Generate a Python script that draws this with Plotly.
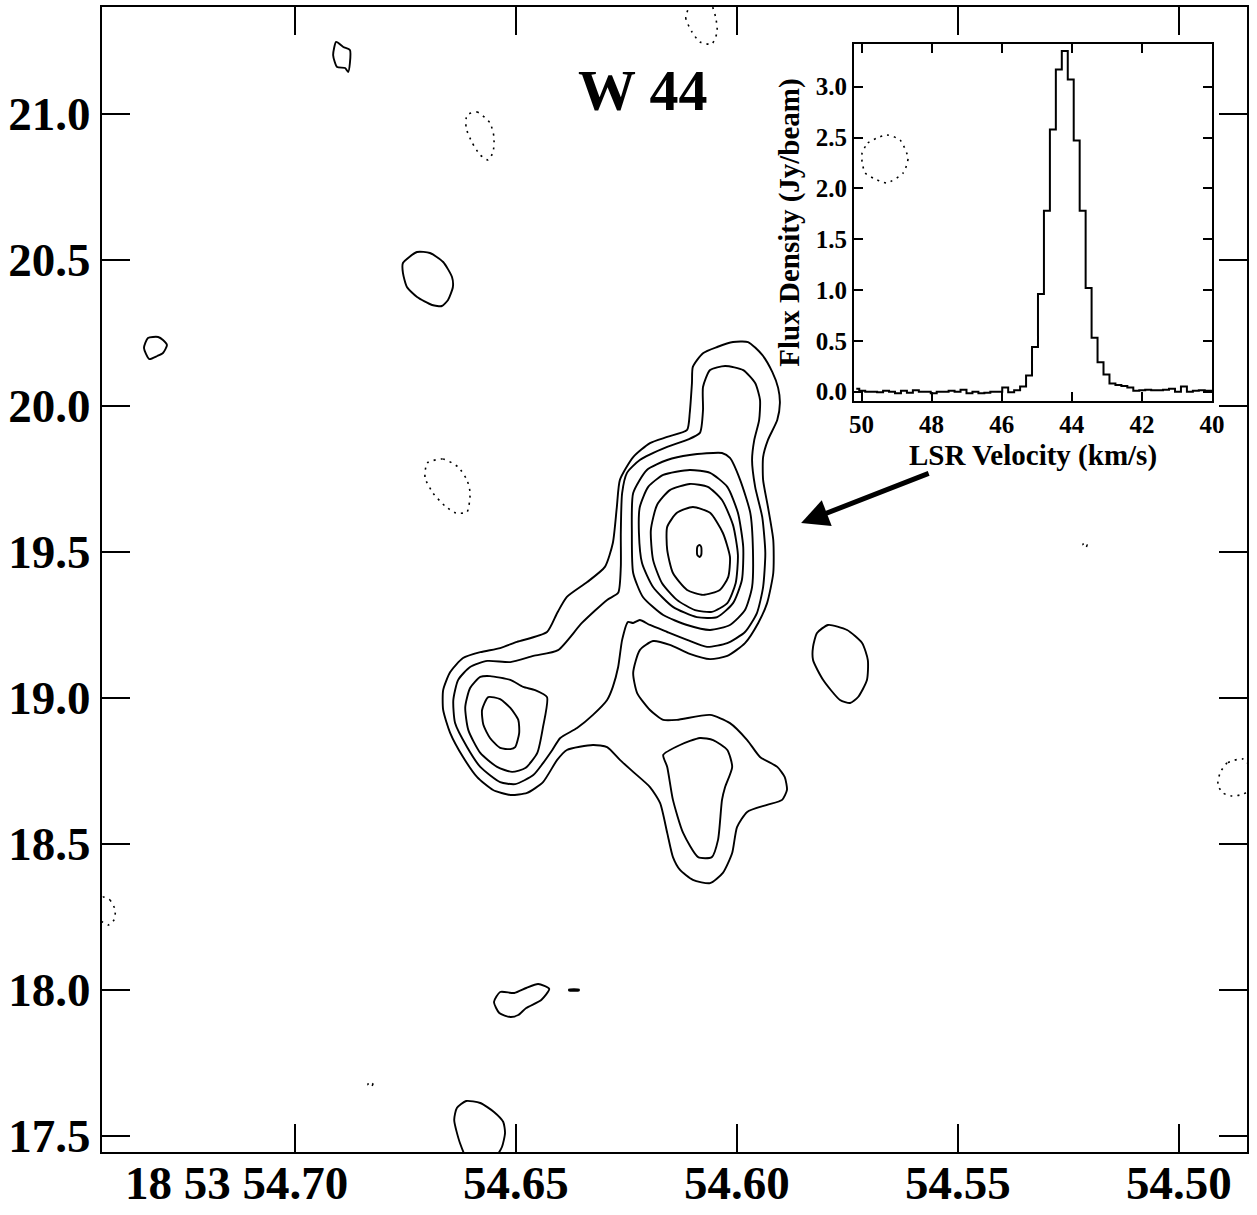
import plotly.graph_objects as go

# ---------------- main map: contour outlines (RA seconds, Dec arcsec) ----------------
# level 1 (outermost, encloses all emission)
c1_ra = [54.6009, 54.5975, 54.5943, 54.5920, 54.5907, 54.5903, 54.5909, 54.5930, 54.5941, 54.5941,
         54.5930, 54.5918, 54.5918, 54.5932, 54.5952, 54.5982, 54.6022, 54.6061, 54.6107, 54.6152,
         54.6190, 54.6220, 54.6235, 54.6226, 54.6197, 54.6167, 54.6136, 54.6061, 54.6016, 54.5977,
         54.5948, 54.5909, 54.5892, 54.5887, 54.5898, 54.5932, 54.5977, 54.6000, 54.6011, 54.6032,
         54.6061, 54.6100, 54.6129, 54.6145, 54.6158, 54.6174, 54.6197, 54.6235, 54.6265, 54.6294,
         54.6326, 54.6385, 54.6407, 54.6439, 54.6475, 54.6513, 54.6552, 54.6588, 54.6620, 54.6649,
         54.6665, 54.6665, 54.6649, 54.6620, 54.6581, 54.6536, 54.6498, 54.6430, 54.6407, 54.6385,
         54.6339, 54.6299, 54.6281, 54.6272, 54.6265, 54.6235, 54.6197, 54.6158, 54.6113, 54.6107,
         54.6102, 54.6100, 54.6077, 54.6045]
c1_dec = [20.219, 20.219, 20.175, 20.116, 20.062, 20.010, 19.952, 19.884, 19.825, 19.747,
          19.654, 19.541, 19.428, 19.325, 19.257, 19.188, 19.144, 19.133, 19.151, 19.182,
          19.195, 19.164, 19.086, 19.017, 18.959, 18.925, 18.925, 18.942, 18.914, 18.856,
          18.798, 18.764, 18.729, 18.685, 18.651, 18.634, 18.610, 18.558, 18.469, 18.401,
          18.366, 18.377, 18.411, 18.455, 18.538, 18.640, 18.695, 18.747, 18.788, 18.832,
          18.839, 18.822, 18.788, 18.712, 18.675, 18.668, 18.685, 18.729, 18.798, 18.880,
          18.959, 19.027, 19.089, 19.137, 19.157, 19.171, 19.192, 19.226, 19.291, 19.346,
          19.397, 19.449, 19.531, 19.654, 19.747, 19.825, 19.873, 19.894, 19.918, 19.976,
          20.079, 20.134, 20.181, 20.202]

# level 2 (main peak + northern extension + western peak)
c2_ra = [54.6061, 54.6027, 54.5986, 54.5959, 54.5948, 54.5950, 54.5961, 54.5966, 54.5959, 54.5943,
         54.5936, 54.5941, 54.5955, 54.5982, 54.6022, 54.6068, 54.6113, 54.6158, 54.6197, 54.6220,
         54.6235, 54.6247, 54.6260, 54.6269, 54.6281, 54.6294, 54.6326, 54.6362, 54.6400, 54.6418,
         54.6439, 54.6461, 54.6502, 54.6536, 54.6581, 54.6611, 54.6638, 54.6642, 54.6631, 54.6604,
         54.6565, 54.6513, 54.6461, 54.6405, 54.6351, 54.6294, 54.6269, 54.6263, 54.6263, 54.6260,
         54.6249, 54.6220, 54.6158, 54.6113, 54.6084, 54.6077, 54.6077]
c2_dec = [20.123, 20.137, 20.123, 20.079, 20.021, 19.952, 19.884, 19.815, 19.723, 19.620,
          19.497, 19.380, 19.291, 19.226, 19.188, 19.175, 19.199, 19.226, 19.250, 19.267,
          19.257, 19.260, 19.199, 19.106, 19.038, 18.993, 18.942, 18.897, 18.863, 18.822,
          18.777, 18.736, 18.705, 18.712, 18.764, 18.832, 18.914, 18.993, 19.062, 19.106,
          19.127, 19.123, 19.144, 19.164, 19.257, 19.336, 19.360, 19.449, 19.565, 19.702,
          19.771, 19.815, 19.860, 19.884, 19.908, 19.986, 20.065]

# level 2, south-eastern lobe
r2_ra = [54.6167, 54.6158, 54.6145, 54.6122, 54.6088, 54.6057, 54.6043, 54.6034, 54.6027, 54.6011,
         54.6022, 54.6054, 54.6084, 54.6129]
r2_dec = [18.805, 18.764, 18.651, 18.538, 18.455, 18.455, 18.514, 18.651, 18.695, 18.764,
          18.822, 18.856, 18.863, 18.839]

# western peak, levels 3 and 4
l3_ra = [54.6581, 54.6559, 54.6513, 54.6484, 54.6457, 54.6430, 54.6439, 54.6452, 54.6479, 54.6509,
         54.6543, 54.6581, 54.6608, 54.6615, 54.6604]
l3_dec = [19.072, 19.075, 19.062, 19.038, 19.027, 19.003, 18.901, 18.812, 18.760, 18.747,
          18.764, 18.812, 18.890, 18.969, 19.034]
l4_ra = [54.6563, 54.6536, 54.6513, 54.6495, 54.6493, 54.6502, 54.6513, 54.6536, 54.6559, 54.6574,
         54.6577]
l4_dec = [19.003, 18.996, 18.966, 18.925, 18.880, 18.832, 18.825, 18.829, 18.863, 18.908,
          18.959]

# main peak, levels 3 .. 7
e4_ra = [54.6235, 54.6204, 54.6158, 54.6107, 54.6034, 54.6016, 54.5993, 54.5970, 54.5964, 54.5966,
         54.5982, 54.6016, 54.6061, 54.6113, 54.6167, 54.6213, 54.6235, 54.6238]
e4_dec = [19.702, 19.781, 19.815, 19.832, 19.839, 19.822, 19.747, 19.634, 19.507, 19.380,
          19.301, 19.250, 19.233, 19.250, 19.284, 19.346, 19.428, 19.565]
e3_ra = [54.6220, 54.6201, 54.6167, 54.6107, 54.6061, 54.6022, 54.5998, 54.5986, 54.5989, 54.6009,
         54.6045, 54.6091, 54.6145, 54.6190, 54.6215, 54.6222]
e3_dec = [19.654, 19.723, 19.764, 19.781, 19.771, 19.723, 19.634, 19.517, 19.404, 19.325,
          19.277, 19.277, 19.312, 19.380, 19.462, 19.565]
e2_ra = [54.6195, 54.6181, 54.6152, 54.6107, 54.6066, 54.6034, 54.6009, 54.5998, 54.6003, 54.6022,
         54.6057, 54.6095, 54.6136, 54.6170, 54.6190]
e2_dec = [19.575, 19.661, 19.712, 19.733, 19.723, 19.678, 19.592, 19.490, 19.394, 19.325,
          19.295, 19.301, 19.336, 19.394, 19.473]
e1_ra = [54.6158, 54.6136, 54.6100, 54.6061, 54.6032, 54.6016, 54.6020, 54.6039, 54.6077, 54.6113,
         54.6145, 54.6158]
e1_dec = [19.586, 19.634, 19.654, 19.634, 19.565, 19.483, 19.414, 19.370, 19.353, 19.370,
          19.428, 19.507]
e0_ra = [54.6085, 54.6081, 54.6081, 54.6085, 54.6090, 54.6090]
e0_dec = [19.524, 19.517, 19.490, 19.483, 19.490, 19.517]

# isolated positive contours
a_ra = [54.6907, 54.6891, 54.6876, 54.6876, 54.6880, 54.6887, 54.6905, 54.6914]
a_dec = [21.2466, 21.2294, 21.2192, 21.1746, 21.1438, 21.1575, 21.1609, 21.2020]
b_ra = [54.7333, 54.7310, 54.7299, 54.7290, 54.7299, 54.7312, 54.7330, 54.7342]
b_dec = [20.2329, 20.2363, 20.2260, 20.2089, 20.1815, 20.1712, 20.1609, 20.1986]
c_ra = [54.6756, 54.6724, 54.6695, 54.6665, 54.6645, 54.6643, 54.6654, 54.6668, 54.6690, 54.6724,
        54.6747, 54.6756]
c_dec = [20.4897, 20.5274, 20.5239, 20.4931, 20.4418, 20.4075, 20.3630, 20.3424, 20.3459, 20.3733,
         20.4075, 20.4555]
d_ra = [54.5819, 54.5794, 54.5751, 54.5717, 54.5704, 54.5706, 54.5726, 54.5744, 54.5767, 54.5805,
        54.5828, 54.5828]
d_dec = [19.2226, 19.2500, 19.2329, 19.1884, 19.1301, 19.0616, 19.0034, 18.9828, 18.9931, 19.0616,
         19.1301, 19.1747]
f_ra = [54.6536, 54.6504, 54.6477, 54.6450, 54.6425, 54.6443, 54.6477, 54.6495, 54.6513, 54.6538,
        54.6550]
f_dec = [17.9931, 17.9897, 18.0068, 18.0205, 18.0034, 17.9657, 17.9383, 17.9143, 17.9075, 17.9212,
         17.9589]
g_ra = [54.6380, 54.6358, 54.6358, 54.6380]
g_dec = [18.0017, 18.0017, 17.9983, 17.9983]
h_ra = [54.6627, 54.6640, 54.6634, 54.6613, 54.6581, 54.6550, 54.6529, 54.6525, 54.6532, 54.6545,
        54.6570, 54.6609]
h_dec = [17.4760, 17.5548, 17.5959, 17.6199, 17.6130, 17.5822, 17.5479, 17.5103, 17.4623, 17.4315,
         17.4006, 17.4178]

# negative contours (dotted)
n1_ra = [54.6107, 54.6116, 54.6102, 54.6084, 54.6057, 54.6045, 54.6048, 54.6057, 54.6073, 54.6095]
n1_dec = [21.3733, 21.3288, 21.2808, 21.2466, 21.2397, 21.2808, 21.3288, 21.3733, 21.4075, 21.4007]
n2_ra = [54.6611, 54.6588, 54.6559, 54.6550, 54.6552, 54.6563, 54.6581, 54.6599, 54.6613]
n2_dec = [20.9966, 21.0068, 20.9692, 20.9212, 20.8699, 20.8425, 20.8596, 20.9007, 20.9520]
n3_ra = [54.6701, 54.6665, 54.6631, 54.6611, 54.6604, 54.6611, 54.6636, 54.6661, 54.6688, 54.6706]
n3_dec = [19.8048, 19.8185, 19.7911, 19.7466, 19.7021, 19.6370, 19.6336, 19.6576, 19.7021, 19.7534]
n4_ra = [54.5717, 54.5704, 54.5683, 54.5661, 54.5631, 54.5613, 54.5624, 54.5661, 54.5683, 54.5710,
         54.5717]
n4_dec = [20.8664, 20.9007, 20.9178, 20.9281, 20.9109, 20.8493, 20.7979, 20.7637, 20.7740, 20.7979,
          20.8356]
n5_ra = [54.4855, 54.4891, 54.4907, 54.4912, 54.4900, 54.4880, 54.4862, 54.4846, 54.4828]
n5_dec = [18.7910, 18.7773, 18.7431, 18.7020, 18.6746, 18.6643, 18.6677, 18.6780, 18.7362]
n6_ra = [54.7434, 54.7419, 54.7407, 54.7410, 54.7423, 54.7441, 54.7446]
n6_dec = [18.3184, 18.3082, 18.2739, 18.2397, 18.2226, 18.2397, 18.2911]
n7_ra = [54.6833, 54.6824, 54.6828, 54.6835]
n7_dec = [17.6848, 17.6780, 17.6677, 17.6746]
n8_ra = [54.5215, 54.5208, 54.5211, 54.5217]
n8_dec = [19.5343, 19.5240, 19.5137, 19.5240]

ra_ticks = [54.70, 54.65, 54.60, 54.55, 54.50]
ra_labels = ["18 53 54.70", "54.65", "54.60", "54.55", "54.50"]
dec_ticks = [17.5, 18.0, 18.5, 19.0, 19.5, 20.0, 20.5, 21.0]
dec_labels = ["17.5", "18.0", "18.5", "19.0", "19.5", "20.0", "20.5", "21.0"]

# ---------------- inset spectrum ----------------
velocity = [50.15, 49.98, 49.81, 49.64, 49.47, 49.30, 49.13, 48.96, 48.79, 48.62,
            48.45, 48.28, 48.11, 47.94, 47.77, 47.60, 47.43, 47.26, 47.09, 46.92,
            46.75, 46.58, 46.41, 46.24, 46.07, 45.90, 45.73, 45.56, 45.39, 45.22,
            45.05, 44.88, 44.71, 44.54, 44.37, 44.20, 44.03, 43.86, 43.69, 43.52,
            43.35, 43.18, 43.01, 42.84, 42.67, 42.50, 42.33, 42.16, 41.99, 41.82,
            41.65, 41.48, 41.31, 41.14, 40.97, 40.80, 40.63, 40.46, 40.29, 40.12, 39.95]
flux = [0.03, 0.01, 0.00, 0.00, -0.005, 0.01, 0.00, -0.015, 0.01, -0.01,
        0.015, 0.00, 0.00, -0.015, 0.00, 0.00, 0.01, 0.00, 0.02, -0.015,
        0.00, -0.015, -0.01, 0.00, 0.00, 0.04, -0.005, 0.015, 0.05, 0.16,
        0.44, 0.96, 1.78, 2.58, 3.17, 3.35, 3.07, 2.47, 1.78, 1.02,
        0.53, 0.29, 0.17, 0.08, 0.065, 0.055, 0.04, 0.01, 0.015, 0.02,
        0.015, 0.015, 0.02, 0.03, 0.00, 0.05, 0.00, 0.01, 0.015, 0.01, 0.01]
vel_ticks = [50, 48, 46, 44, 42, 40]
flux_ticks = [0.0, 0.5, 1.0, 1.5, 2.0, 2.5, 3.0]
flux_labels = ["0.0", "0.5", "1.0", "1.5", "2.0", "2.5", "3.0"]

# ---------------- figure ----------------
FONT = "Liberation Serif"
fig = go.Figure()

solid = [(c1_ra, c1_dec), (c2_ra, c2_dec), (r2_ra, r2_dec), (l3_ra, l3_dec), (l4_ra, l4_dec),
         (e4_ra, e4_dec), (e3_ra, e3_dec), (e2_ra, e2_dec), (e1_ra, e1_dec), (e0_ra, e0_dec),
         (a_ra, a_dec), (b_ra, b_dec), (c_ra, c_dec), (d_ra, d_dec), (f_ra, f_dec),
         (g_ra, g_dec), (h_ra, h_dec)]
dotted = [(n1_ra, n1_dec), (n2_ra, n2_dec), (n3_ra, n3_dec), (n4_ra, n4_dec), (n5_ra, n5_dec),
          (n6_ra, n6_dec), (n7_ra, n7_dec), (n8_ra, n8_dec)]

for xs, ys in solid:
    fig.add_trace(go.Scatter(x=list(xs) + [xs[0]], y=list(ys) + [ys[0]], mode="lines",
                             line=dict(color="black", width=1.9, shape="spline", smoothing=0.6),
                             showlegend=False, hoverinfo="skip", xaxis="x", yaxis="y"))
for xs, ys in dotted:
    fig.add_trace(go.Scatter(x=list(xs) + [xs[0]], y=list(ys) + [ys[0]], mode="lines",
                             line=dict(color="black", width=1.6, dash="2px,5px", shape="spline",
                                       smoothing=0.6),
                             showlegend=False, hoverinfo="skip", xaxis="x", yaxis="y"))

fig.add_trace(go.Scatter(x=velocity, y=flux, mode="lines",
                         line=dict(color="black", width=2, shape="hvh"),
                         showlegend=False, hoverinfo="skip", xaxis="x2", yaxis="y2"))

axis_common = dict(showgrid=False, zeroline=False, showline=True, linecolor="black", linewidth=2,
                   mirror="ticks", ticks="inside", tickcolor="black", automargin=False)

fig.update_layout(
    width=1257, height=1215,
    margin=dict(l=102, r=10, t=7, b=63),
    paper_bgcolor="white", plot_bgcolor="rgba(0,0,0,0)",
    template="none",
    font=dict(family=FONT, color="black", weight="bold"),
    xaxis=dict(domain=[0, 1], range=[54.7437, 54.4846], tickvals=ra_ticks,
               ticktext=["" for _ in ra_ticks], ticklen=28, tickwidth=2, anchor="y",
               tickfont=dict(family=FONT, size=47, color="black", weight="bold"), **axis_common),
    yaxis=dict(domain=[0, 1], range=[17.4452, 21.3664], tickvals=dec_ticks, ticktext=dec_labels,
               ticklen=28, tickwidth=2, anchor="x",
               tickfont=dict(family=FONT, size=47, color="black", weight="bold"), **axis_common),
    xaxis2=dict(domain=[0.6568, 0.9694], range=[50.214, 40.0], anchor="y2", tickvals=vel_ticks,
                ticklen=9, tickwidth=2,
                tickfont=dict(family=FONT, size=25, color="black", weight="bold"),
                title=dict(text="LSR Velocity (km/s)", standoff=8,
                           font=dict(family=FONT, size=29, color="black", weight="bold")),
                **axis_common),
    yaxis2=dict(domain=[0.6559, 0.9677], range=[-0.0915, 3.42], anchor="x2", tickvals=flux_ticks,
                ticktext=flux_labels, ticklen=9, tickwidth=2,
                tickfont=dict(family=FONT, size=25, color="black", weight="bold"),
                title=dict(text="Flux Density (Jy/beam)", standoff=8,
                           font=dict(family=FONT, size=29, color="black", weight="bold")),
                **axis_common),
)

# RA tick labels (the first one carries the hours/minutes, with its seconds part on the tick)
for i, (val, lab) in enumerate(zip(ra_ticks, ra_labels)):
    if i == 0:
        fig.add_annotation(x=val, xref="x", y=0, yref="paper", text=lab, showarrow=False,
                           xanchor="right", yanchor="top", xshift=55, yshift=-3,
                           font=dict(family=FONT, size=47, color="black", weight="bold"))
    else:
        fig.add_annotation(x=val, xref="x", y=0, yref="paper", text=lab, showarrow=False,
                           xanchor="center", yanchor="top", yshift=-3,
                           font=dict(family=FONT, size=47, color="black", weight="bold"))

fig.add_annotation(x=54.6213, xref="x", y=21.0788, yref="y", text="W 44", showarrow=False,
                   xanchor="center", yanchor="middle",
                   font=dict(family=FONT, size=58, color="black", weight="bold"))
fig.add_annotation(x=54.5855, y=19.599, xref="x", yref="y", ax=54.5563, ay=19.771,
                   axref="x", ayref="y", text="", showarrow=True, arrowhead=2, arrowsize=1.1,
                   arrowwidth=5, arrowcolor="black", standoff=0)

fig.write_html("out.html")
